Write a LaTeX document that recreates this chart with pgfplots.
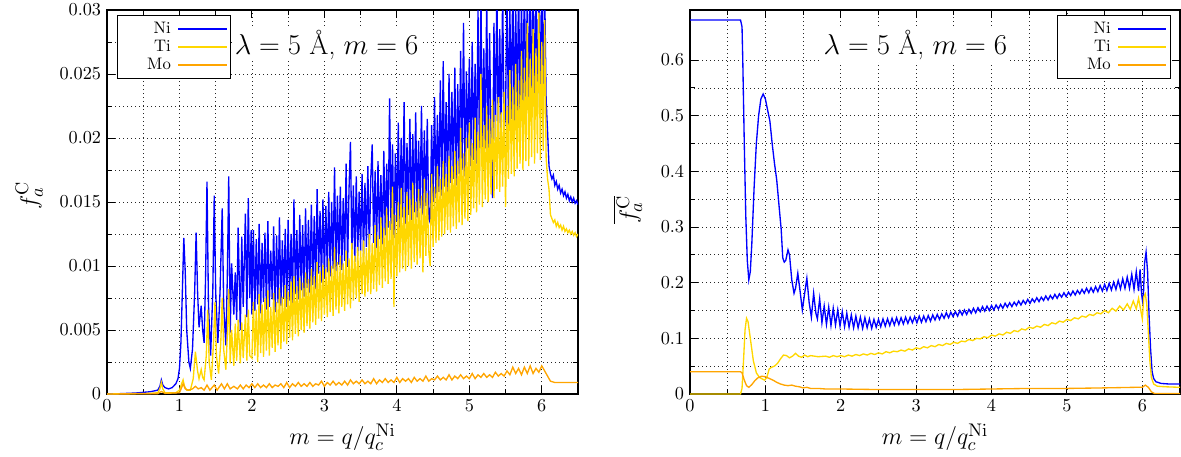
\documentclass[border=0pt]{standalone}
\usepackage{pgfplots}
\pgfplotsset{compat=1.18}
\definecolor{niblue}{RGB}{0,0,255}
\definecolor{tigold}{RGB}{255,215,0}
\definecolor{moorange}{RGB}{255,165,0}
\pgfplotsset{
  myaxis/.style={
    scale only axis, height=230.4pt,
    xmin=0, xmax=6.5, ymin=0,
    xtick={0,1,2,3,4,5,6},
    minor x tick num=1, minor y tick num=1,
    grid=both,
    major grid style={black!85, dotted, line width=0.5pt},
    minor grid style={black!85, dotted, line width=0.5pt},
    tick align=inside,
    axis line style={line width=0.9pt},
    major tick length=5pt, minor tick length=3pt,
    tick style={black, line width=0.6pt},
    tick label style={font=\fontsize{10.5}{12}\selectfont},
    label style={font=\fontsize{15}{17}\selectfont},
    xlabel={$m=q/q_c^{\mathrm{Ni}}$},
    xlabel style={at={(rel axis cs:0.5,-0.113)}, anchor=center},
    legend plot pos=right, legend cell align=right,
    legend style={draw=black, line width=0.6pt, font=\fontsize{10}{11}\selectfont, row sep=-1.5pt, inner sep=2pt,
      /tikz/every odd column/.append style={minimum width=34pt, text width=26pt, align=right},
      /tikz/every even column/.append style={minimum width=40pt}},
    legend image code/.code={\draw[#1, line width=0.9pt] (0pt,0pt) -- (29pt,0pt);},
    every axis plot/.append style={line width=0.8pt},
  }
}
\begin{document}
\begin{tikzpicture}
\path[use as bounding box] (0,0) rectangle (708.6pt,273.6pt);
% ---------------- left panel ----------------
\begin{axis}[myaxis, at={(64.2pt,37.2pt)}, anchor=south west, width=282.6pt,
  ymax=0.03, ytick={0,0.005,0.01,0.015,0.02,0.025,0.03},
  scaled y ticks=false,
  yticklabel style={/pgf/number format/fixed, /pgf/number format/precision=3},
  ylabel={$f_a^{\mathrm{C}}$},
  ylabel style={at={(rel axis cs:-0.165,0.518)}, anchor=center},
  legend style={at={(0,1)}, anchor=north west, xshift=6pt, yshift=-3pt}]
\addplot[niblue] coordinates {
(0,0) (0.2,0.00003) (0.4,0.00008) (0.6,0.00018) (0.7,0.0003) (0.73,0.0006) (0.75,0.0011) (0.77,0.0007) (0.8,0.0005) (0.85,0.0004) (0.9,0.0005) (0.95,0.0008) (0.98,0.0012)
(1.0,0.002) (1.02,0.004) (1.04,0.008) (1.06,0.0122) (1.08,0.0095) (1.1,0.005) (1.13,0.0025) (1.15,0.002) (1.18,0.0035) (1.21,0.008) (1.23,0.0126) (1.25,0.008) (1.27,0.0052) (1.30,0.0069) (1.32,0.005) (1.34,0.004) (1.36,0.009) (1.38,0.0166) (1.40,0.007) (1.43,0.003) (1.46,0.008) (1.48,0.0155) (1.50,0.008) (1.53,0.004) (1.56,0.008) (1.59,0.0145) (1.61,0.007) (1.64,0.0038) (1.66,0.009) (1.68,0.0170) (1.70,0.0048) (1.72,0.0102) (1.75,0.0062) (1.77,0.0095) (1.79,0.0058) (1.81,0.0130) (1.84,0.0050) (1.86,0.0123) (1.88,0.0068) (1.91,0.0141) (1.93,0.0060) (1.95,0.0153) (1.97,0.0075) (1.99,0.0128)
(2.00,0.0062) (2.02,0.0128) (2.04,0.0065) (2.06,0.0121) (2.08,0.0070) (2.10,0.0133) (2.12,0.0063) (2.14,0.0118) (2.16,0.0072) (2.18,0.0126) (2.20,0.0066) (2.22,0.0135) (2.24,0.0068) (2.26,0.0112) (2.28,0.0074) (2.30,0.0131) (2.32,0.0064) (2.34,0.0124) (2.36,0.0071) (2.38,0.0138) (2.40,0.0069) (2.42,0.0120) (2.44,0.0075) (2.46,0.0129) (2.48,0.0068)
(2.50,0.0136) (2.52,0.0073) (2.54,0.0125) (2.56,0.0070) (2.58,0.0152) (2.60,0.0078) (2.62,0.0128) (2.64,0.0074) (2.66,0.0140) (2.68,0.0081) (2.70,0.0132) (2.72,0.0076) (2.74,0.0145) (2.76,0.0083) (2.78,0.0136) (2.80,0.0079) (2.82,0.0148) (2.84,0.0085) (2.86,0.0139) (2.88,0.0082) (2.90,0.0160) (2.92,0.0094) (2.94,0.0143) (2.96,0.0087) (2.98,0.0152)
(3.00,0.0090) (3.02,0.0147) (3.04,0.0095) (3.06,0.0158) (3.08,0.0092) (3.10,0.0150) (3.12,0.0098) (3.14,0.0177) (3.16,0.0096) (3.18,0.0155) (3.20,0.0101) (3.22,0.0162) (3.24,0.0097) (3.26,0.0153) (3.28,0.0104) (3.30,0.0180) (3.32,0.0100) (3.34,0.0160) (3.36,0.0197) (3.38,0.0106) (3.40,0.0163) (3.42,0.0103) (3.44,0.0170) (3.46,0.0108) (3.48,0.0158)
(3.50,0.0112) (3.52,0.0172) (3.54,0.0107) (3.56,0.0165) (3.58,0.0115) (3.60,0.0178) (3.62,0.0110) (3.64,0.0168) (3.66,0.0195) (3.68,0.0118) (3.70,0.0174) (3.72,0.0114) (3.74,0.0182) (3.76,0.0121) (3.78,0.0171) (3.80,0.0117) (3.82,0.0190) (3.84,0.0124) (3.86,0.0180) (3.88,0.0130) (3.90,0.0231) (3.92,0.0128) (3.94,0.0195) (3.96,0.0122) (3.98,0.0188)
(4.00,0.0135) (4.02,0.0212) (4.04,0.0130) (4.06,0.0200) (4.08,0.0138) (4.10,0.0228) (4.12,0.0133) (4.14,0.0196) (4.16,0.0140) (4.18,0.0215) (4.20,0.0136) (4.22,0.0203) (4.24,0.0142) (4.26,0.0220) (4.28,0.0138) (4.30,0.0198) (4.32,0.0145) (4.34,0.0225) (4.36,0.0140) (4.38,0.0206) (4.40,0.0147) (4.42,0.0215) (4.44,0.0137) (4.46,0.0134) (4.48,0.0210)
(4.50,0.0150) (4.52,0.0232) (4.54,0.0153) (4.56,0.0218) (4.58,0.0158) (4.60,0.0245) (4.62,0.0155) (4.64,0.0260) (4.66,0.0162) (4.68,0.0228) (4.70,0.0158) (4.72,0.0250) (4.74,0.0165) (4.76,0.0236) (4.78,0.0168) (4.80,0.0255) (4.82,0.0163) (4.84,0.0242) (4.86,0.0172) (4.88,0.0268) (4.90,0.0175) (4.92,0.0290) (4.94,0.0170) (4.96,0.0252) (4.98,0.0192)
(5.00,0.0262) (5.02,0.0178) (5.04,0.0275) (5.06,0.0183) (5.08,0.0258) (5.10,0.0180) (5.12,0.0300) (5.14,0.0188) (5.16,0.0315) (5.18,0.0185) (5.20,0.0270) (5.22,0.0192) (5.24,0.0310) (5.26,0.0186) (5.28,0.0282) (5.30,0.0195) (5.32,0.0153) (5.34,0.0290) (5.36,0.0198) (5.38,0.0320) (5.40,0.0194) (5.42,0.0285) (5.44,0.0202) (5.46,0.0315) (5.48,0.0206)
(5.50,0.0218) (5.52,0.0320) (5.54,0.0210) (5.56,0.0300) (5.58,0.0215) (5.60,0.0325) (5.62,0.0212) (5.64,0.0305) (5.66,0.0220) (5.68,0.0320) (5.70,0.0218) (5.72,0.0310) (5.74,0.0225) (5.76,0.0325) (5.78,0.0222) (5.80,0.0315) (5.82,0.0228) (5.84,0.0320) (5.86,0.0220) (5.88,0.0330) (5.90,0.0230) (5.92,0.0315) (5.94,0.0224) (5.96,0.0325) (5.98,0.0232)
(6.00,0.0320) (6.02,0.0240) (6.04,0.0318) (6.06,0.0230) (6.08,0.0205) (6.10,0.0178) (6.12,0.0172) (6.14,0.0168) (6.16,0.0171) (6.18,0.0163) (6.20,0.0166) (6.22,0.0160) (6.24,0.0163) (6.26,0.0157) (6.28,0.0160) (6.30,0.0155) (6.32,0.0158) (6.34,0.0153) (6.36,0.0156) (6.38,0.0151) (6.40,0.0154) (6.42,0.0150) (6.44,0.0153) (6.46,0.0149) (6.48,0.0151) (6.50,0.0148)
};
\addlegendentry{Ni}
\addplot[tigold] coordinates {
(0,0) (0.6,0.00005) (0.7,0.0001) (0.73,0.0004) (0.75,0.0009) (0.77,0.0004) (0.8,0.0001) (0.95,0.0001)
(1.0,0.0003) (1.03,0.0008) (1.05,0.0011) (1.07,0.0006) (1.1,0.0003) (1.15,0.0003) (1.19,0.0012) (1.22,0.0033) (1.25,0.0018) (1.27,0.0012) (1.30,0.0019) (1.32,0.0013) (1.34,0.0011) (1.37,0.0030) (1.39,0.0066) (1.41,0.0025) (1.44,0.0011) (1.47,0.0040) (1.49,0.0072) (1.51,0.0030) (1.54,0.0016) (1.57,0.0040) (1.59,0.0075) (1.61,0.0035) (1.64,0.0019) (1.66,0.0045) (1.68,0.0082) (1.70,0.0024) (1.72,0.0050) (1.75,0.0022) (1.77,0.0055) (1.79,0.0026) (1.81,0.0058) (1.84,0.0024) (1.86,0.0056) (1.88,0.0028) (1.91,0.0062) (1.93,0.0026) (1.95,0.0066) (1.97,0.0030)
(2.00,0.0028) (2.02,0.0072) (2.04,0.0030) (2.06,0.0066) (2.08,0.0025) (2.10,0.0078) (2.12,0.0032) (2.14,0.0070) (2.16,0.0029) (2.18,0.0075) (2.20,0.0034) (2.22,0.0081) (2.24,0.0030) (2.26,0.0068) (2.28,0.0036) (2.30,0.0079) (2.32,0.0033) (2.34,0.0072) (2.36,0.0038) (2.38,0.0083) (2.40,0.0035) (2.42,0.0076) (2.44,0.0041) (2.46,0.0085) (2.48,0.0039)
(2.50,0.0080) (2.52,0.0044) (2.54,0.0088) (2.56,0.0042) (2.58,0.0092) (2.60,0.0047) (2.62,0.0084) (2.64,0.0045) (2.66,0.0091) (2.68,0.0050) (2.70,0.0087) (2.72,0.0048) (2.74,0.0095) (2.76,0.0053) (2.78,0.0090) (2.80,0.0051) (2.82,0.0098) (2.84,0.0056) (2.86,0.0092) (2.88,0.0054) (2.90,0.0103) (2.92,0.0059) (2.94,0.0096) (2.96,0.0057) (2.98,0.0101)
(3.00,0.0062) (3.02,0.0098) (3.04,0.0060) (3.06,0.0106) (3.08,0.0064) (3.10,0.0100) (3.12,0.0061) (3.14,0.0115) (3.16,0.0066) (3.18,0.0103) (3.20,0.0063) (3.22,0.0108) (3.24,0.0068) (3.26,0.0102) (3.28,0.0065) (3.30,0.0112) (3.32,0.0070) (3.34,0.0106) (3.36,0.0067) (3.38,0.0118) (3.40,0.0073) (3.42,0.0108) (3.44,0.0075) (3.46,0.0115) (3.48,0.0072)
(3.50,0.0112) (3.52,0.0078) (3.54,0.0120) (3.56,0.0076) (3.58,0.0114) (3.60,0.0080) (3.62,0.0125) (3.64,0.0078) (3.66,0.0118) (3.68,0.0082) (3.70,0.0132) (3.72,0.0080) (3.74,0.0124) (3.76,0.0085) (3.78,0.0138) (3.80,0.0083) (3.82,0.0130) (3.84,0.0088) (3.86,0.0145) (3.88,0.0086) (3.90,0.0135) (3.92,0.0090) (3.94,0.0162) (3.96,0.0068) (3.98,0.0140)
(4.00,0.0092) (4.02,0.0150) (4.04,0.0095) (4.06,0.0161) (4.08,0.0098) (4.10,0.0146) (4.12,0.0096) (4.14,0.0158) (4.16,0.0100) (4.18,0.0152) (4.20,0.0098) (4.22,0.0165) (4.24,0.0103) (4.26,0.0150) (4.28,0.0101) (4.30,0.0160) (4.32,0.0106) (4.34,0.0155) (4.36,0.0095) (4.38,0.0168) (4.40,0.0108) (4.42,0.0157) (4.44,0.0112) (4.46,0.0100) (4.48,0.0172)
(4.50,0.0115) (4.52,0.0162) (4.54,0.0118) (4.56,0.0178) (4.58,0.0120) (4.60,0.0168) (4.62,0.0123) (4.64,0.0182) (4.66,0.0125) (4.68,0.0172) (4.70,0.0128) (4.72,0.0186) (4.74,0.0126) (4.76,0.0178) (4.78,0.0131) (4.80,0.0190) (4.82,0.0129) (4.84,0.0182) (4.86,0.0134) (4.88,0.0208) (4.90,0.0132) (4.92,0.0188) (4.94,0.0137) (4.96,0.0200) (4.98,0.0135)
(5.00,0.0212) (5.02,0.0140) (5.04,0.0196) (5.06,0.0145) (5.08,0.0216) (5.10,0.0142) (5.12,0.0205) (5.14,0.0148) (5.16,0.0250) (5.18,0.0146) (5.20,0.0210) (5.22,0.0152) (5.24,0.0225) (5.26,0.0150) (5.28,0.0215) (5.30,0.0156) (5.32,0.0230) (5.34,0.0153) (5.36,0.0218) (5.38,0.0160) (5.40,0.0232) (5.42,0.0158) (5.44,0.0220) (5.46,0.0162) (5.48,0.0236)
(5.50,0.0146) (5.52,0.0225) (5.54,0.0168) (5.56,0.0253) (5.58,0.0172) (5.60,0.0240) (5.62,0.0170) (5.64,0.0258) (5.66,0.0176) (5.68,0.0245) (5.70,0.0180) (5.72,0.0268) (5.74,0.0175) (5.76,0.0255) (5.78,0.0182) (5.80,0.0290) (5.82,0.0178) (5.84,0.0262) (5.86,0.0185) (5.88,0.0285) (5.90,0.0180) (5.92,0.0270) (5.94,0.0188) (5.96,0.0298) (5.98,0.0183)
(6.00,0.0275) (6.02,0.0190) (6.04,0.0292) (6.06,0.0185) (6.08,0.0168) (6.10,0.0160) (6.12,0.0140) (6.14,0.0137) (6.16,0.0134) (6.18,0.0136) (6.20,0.0131) (6.22,0.0134) (6.24,0.0130) (6.26,0.0132) (6.28,0.0128) (6.30,0.0131) (6.32,0.0127) (6.34,0.0129) (6.36,0.0126) (6.38,0.0128) (6.40,0.0125) (6.42,0.0127) (6.44,0.0124) (6.46,0.0126) (6.48,0.0123) (6.50,0.0125)
};
\addlegendentry{Ti}
\addplot[moorange] coordinates {
(0,0) (0.7,0.00003) (0.75,0.0002) (0.8,0.00005) (1.0,0.0001) (1.03,0.0005) (1.05,0.0008) (1.08,0.0004) (1.12,0.0003) (1.18,0.0004) (1.22,0.0006) (1.26,0.0004) (1.30,0.0005) (1.34,0.0003) (1.38,0.0007) (1.42,0.0003) (1.48,0.0007) (1.52,0.0003) (1.58,0.0008) (1.62,0.0004) (1.66,0.0008) (1.70,0.0004) (1.75,0.0006) (1.80,0.0004) (1.84,0.0007) (1.88,0.0004) (1.92,0.0007) (1.96,0.0005)
(2.00,0.0008) (2.04,0.0005) (2.08,0.0008) (2.12,0.0005) (2.16,0.0007) (2.20,0.0005) (2.24,0.0008) (2.28,0.0005) (2.32,0.0007) (2.36,0.0006) (2.40,0.0008) (2.44,0.0005) (2.48,0.0009) (2.52,0.0005) (2.56,0.0008) (2.60,0.0006) (2.64,0.0009) (2.68,0.0006) (2.72,0.0008) (2.76,0.0006) (2.80,0.0009) (2.84,0.0006) (2.88,0.0008) (2.92,0.0007) (2.96,0.0010)
(3.00,0.0006) (3.04,0.0009) (3.08,0.0007) (3.12,0.0010) (3.16,0.0007) (3.20,0.0009) (3.24,0.0007) (3.28,0.0010) (3.32,0.0007) (3.36,0.0011) (3.40,0.0008) (3.44,0.0010) (3.48,0.0008) (3.52,0.0011) (3.56,0.0008) (3.60,0.0010) (3.64,0.0008) (3.68,0.0012) (3.72,0.0008) (3.76,0.0011) (3.80,0.0009) (3.84,0.0012) (3.88,0.0009) (3.92,0.0011) (3.96,0.0009)
(4.00,0.0013) (4.04,0.0009) (4.08,0.0012) (4.12,0.0010) (4.16,0.0012) (4.20,0.0009) (4.24,0.0013) (4.28,0.0010) (4.32,0.0012) (4.36,0.0010) (4.40,0.0014) (4.44,0.0010) (4.48,0.0012) (4.52,0.0011) (4.56,0.0014) (4.60,0.0011) (4.64,0.0013) (4.68,0.0011) (4.72,0.0015) (4.76,0.0011) (4.80,0.0014) (4.84,0.0012) (4.88,0.0015) (4.92,0.0012) (4.96,0.0014)
(5.00,0.0012) (5.04,0.0016) (5.08,0.0012) (5.12,0.0015) (5.16,0.0013) (5.20,0.0016) (5.24,0.0013) (5.28,0.0015) (5.32,0.0013) (5.36,0.0017) (5.40,0.0014) (5.44,0.0016) (5.48,0.0014) (5.52,0.0018) (5.56,0.0015) (5.60,0.0021) (5.64,0.0016) (5.68,0.0020) (5.72,0.0015) (5.76,0.0021) (5.80,0.0016) (5.84,0.0022) (5.88,0.0016) (5.92,0.0020) (5.96,0.0017)
(6.00,0.0022) (6.04,0.0018) (6.08,0.0014) (6.12,0.0010) (6.18,0.0009) (6.30,0.0009) (6.50,0.0009)
};
\addlegendentry{Mo}
\node[fill=white, inner sep=1pt, font=\fontsize{16.5}{18}\selectfont] at (axis cs:3.03,0.0273) {$\lambda = 5$ \AA, $m = 6$};
\end{axis}
% ---------------- right panel ----------------
\begin{axis}[myaxis, at={(414pt,37.2pt)}, anchor=south west, width=294pt,
  ymax=0.69, ytick={0,0.1,0.2,0.3,0.4,0.5,0.6},
  yticklabel style={/pgf/number format/fixed, /pgf/number format/precision=1},
  ylabel={$\overline{f_a^{\mathrm{C}}}$},
  ylabel style={at={(rel axis cs:-0.127,0.48)}, anchor=center},
  legend style={at={(1,1)}, anchor=north east, xshift=-5.4pt, yshift=-3pt}]
\addplot[niblue] coordinates {
(0,0.672) (0.67,0.672) (0.69,0.66) (0.70,0.60) (0.72,0.45) (0.74,0.32) (0.76,0.24) (0.78,0.205) (0.80,0.22) (0.82,0.27) (0.85,0.37) (0.88,0.45) (0.91,0.50) (0.94,0.53) (0.97,0.539)
(1.00,0.53) (1.03,0.51) (1.06,0.49) (1.09,0.45) (1.12,0.415) (1.15,0.385) (1.18,0.34) (1.21,0.295) (1.23,0.245) (1.25,0.237) (1.27,0.24) (1.30,0.259) (1.32,0.25) (1.35,0.205) (1.38,0.181) (1.40,0.19) (1.43,0.217) (1.46,0.185) (1.49,0.151) (1.52,0.18) (1.55,0.208) (1.58,0.165) (1.61,0.138) (1.64,0.181) (1.67,0.145) (1.69,0.135) (1.72,0.171) (1.75,0.128) (1.78,0.158) (1.81,0.125) (1.84,0.156) (1.87,0.123) (1.90,0.154) (1.93,0.124) (1.96,0.151) (1.99,0.122)
(2.02,0.148) (2.05,0.121) (2.08,0.145) (2.11,0.120) (2.14,0.142) (2.17,0.119) (2.20,0.140) (2.23,0.119) (2.26,0.138) (2.29,0.118) (2.32,0.137) (2.35,0.119) (2.38,0.135) (2.41,0.118) (2.44,0.134) (2.47,0.120) (2.50,0.134) (2.53,0.121) (2.56,0.135) (2.59,0.122) (2.62,0.135) (2.65,0.123) (2.68,0.136) (2.71,0.124) (2.74,0.137) (2.77,0.125) (2.80,0.137) (2.83,0.126) (2.86,0.138) (2.89,0.127) (2.92,0.138) (2.95,0.128) (2.98,0.139)
(3.01,0.128) (3.04,0.140) (3.07,0.129) (3.10,0.140) (3.13,0.130) (3.16,0.141) (3.19,0.131) (3.22,0.142) (3.25,0.133) (3.28,0.143) (3.31,0.134) (3.34,0.144) (3.37,0.136) (3.40,0.146) (3.43,0.137) (3.46,0.147) (3.49,0.139) (3.52,0.148) (3.55,0.140) (3.58,0.150) (3.61,0.142) (3.64,0.151) (3.67,0.143) (3.70,0.152) (3.73,0.145) (3.76,0.154) (3.79,0.146) (3.82,0.155) (3.85,0.148) (3.88,0.157) (3.91,0.149) (3.94,0.158) (3.97,0.150)
(4.00,0.159) (4.03,0.151) (4.06,0.160) (4.09,0.153) (4.12,0.161) (4.15,0.154) (4.18,0.163) (4.21,0.156) (4.24,0.164) (4.27,0.157) (4.30,0.165) (4.33,0.159) (4.36,0.167) (4.39,0.160) (4.42,0.168) (4.45,0.162) (4.48,0.170) (4.51,0.163) (4.54,0.171) (4.57,0.165) (4.60,0.173) (4.63,0.166) (4.66,0.174) (4.69,0.168) (4.72,0.176) (4.75,0.169) (4.78,0.177) (4.81,0.171) (4.84,0.179) (4.87,0.172) (4.90,0.180) (4.93,0.174) (4.96,0.182) (4.99,0.175)
(5.02,0.183) (5.05,0.177) (5.08,0.185) (5.11,0.178) (5.14,0.186) (5.17,0.180) (5.20,0.188) (5.23,0.181) (5.26,0.190) (5.29,0.182) (5.32,0.191) (5.35,0.183) (5.38,0.193) (5.41,0.184) (5.44,0.195) (5.47,0.185) (5.50,0.197) (5.53,0.186) (5.56,0.199) (5.59,0.187) (5.62,0.201) (5.65,0.188) (5.68,0.204) (5.71,0.189) (5.74,0.207) (5.77,0.190) (5.80,0.210) (5.83,0.190) (5.86,0.215) (5.89,0.188) (5.92,0.220) (5.95,0.185) (5.97,0.224) (5.99,0.180)
(6.01,0.160) (6.03,0.235) (6.05,0.255) (6.07,0.22) (6.09,0.14) (6.11,0.08) (6.13,0.04) (6.15,0.028) (6.18,0.022) (6.25,0.019) (6.35,0.018) (6.50,0.018)
};
\addlegendentry{Ni}
\addplot[tigold] coordinates {
(0,0) (0.67,0) (0.69,0.01) (0.71,0.06) (0.73,0.115) (0.75,0.136) (0.77,0.13) (0.80,0.1) (0.84,0.06) (0.88,0.038) (0.92,0.03) (0.96,0.027) (0.99,0.025) (1.02,0.03) (1.05,0.045) (1.08,0.048) (1.12,0.05) (1.16,0.055) (1.20,0.063) (1.24,0.07) (1.28,0.069) (1.32,0.065) (1.36,0.068) (1.40,0.073) (1.44,0.068) (1.48,0.066) (1.52,0.070) (1.56,0.067) (1.60,0.069) (1.70,0.067)
(1.80,0.068) (1.85,0.066) (1.90,0.069) (1.95,0.067) (2.00,0.069) (2.05,0.067) (2.10,0.070) (2.15,0.068) (2.20,0.071) (2.25,0.069) (2.30,0.072) (2.35,0.070) (2.40,0.073) (2.45,0.071) (2.50,0.074) (2.55,0.072) (2.60,0.076) (2.65,0.074) (2.70,0.077) (2.75,0.076) (2.80,0.079) (2.85,0.077) (2.90,0.081) (2.95,0.079)
(3.00,0.083) (3.05,0.081) (3.10,0.085) (3.15,0.083) (3.20,0.087) (3.25,0.085) (3.30,0.089) (3.35,0.087) (3.40,0.091) (3.45,0.089) (3.50,0.093) (3.55,0.091) (3.60,0.095) (3.65,0.094) (3.70,0.098) (3.75,0.096) (3.80,0.100) (3.85,0.099) (3.90,0.103) (3.95,0.101)
(4.00,0.106) (4.05,0.104) (4.10,0.108) (4.15,0.106) (4.20,0.111) (4.25,0.109) (4.30,0.114) (4.35,0.112) (4.40,0.117) (4.45,0.115) (4.50,0.120) (4.55,0.118) (4.60,0.122) (4.65,0.120) (4.70,0.125) (4.75,0.123) (4.80,0.128) (4.85,0.126) (4.90,0.131) (4.95,0.129)
(5.00,0.134) (5.05,0.132) (5.10,0.137) (5.15,0.135) (5.20,0.140) (5.25,0.138) (5.30,0.143) (5.35,0.141) (5.40,0.146) (5.45,0.144) (5.50,0.150) (5.55,0.146) (5.60,0.154) (5.65,0.149) (5.70,0.158) (5.75,0.151) (5.80,0.162) (5.84,0.152) (5.88,0.167) (5.92,0.153) (5.95,0.172) (5.98,0.150)
(6.00,0.135) (6.02,0.175) (6.04,0.18) (6.06,0.16) (6.08,0.11) (6.10,0.06) (6.12,0.03) (6.15,0.018) (6.20,0.014) (6.30,0.013) (6.50,0.012)
};
\addlegendentry{Ti}
\addplot[moorange] coordinates {
(0,0.04) (0.67,0.04) (0.69,0.038) (0.72,0.025) (0.75,0.015) (0.78,0.012) (0.82,0.017) (0.86,0.024) (0.90,0.029) (0.95,0.032) (1.00,0.031) (1.05,0.028) (1.10,0.025) (1.15,0.021) (1.20,0.018) (1.25,0.016) (1.30,0.015) (1.35,0.016) (1.40,0.014) (1.45,0.013) (1.50,0.011) (1.55,0.012) (1.60,0.010) (1.70,0.010) (1.80,0.009)
(2.0,0.009) (2.5,0.008) (3.0,0.008) (3.5,0.008) (4.0,0.009) (4.5,0.010) (5.0,0.010) (5.5,0.011) (5.9,0.012) (6.0,0.012) (6.04,0.016) (6.08,0.012) (6.12,0.004) (6.16,0.001) (6.50,0.001)
};
\addlegendentry{Mo}
\node[fill=white, inner sep=1pt, font=\fontsize{16.5}{18}\selectfont] at (axis cs:2.99,0.627) {$\lambda = 5$ \AA, $m = 6$};
\end{axis}
\end{tikzpicture}
\end{document}
